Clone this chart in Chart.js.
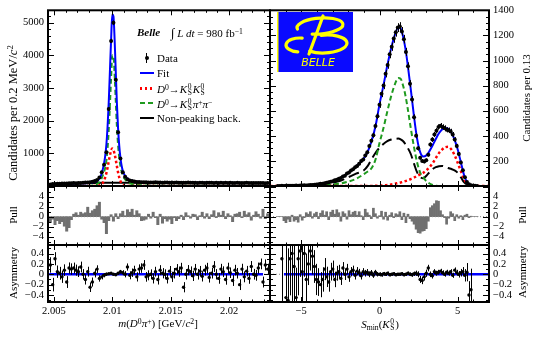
<!DOCTYPE html>
<html><head><meta charset="utf-8">
<script src="https://cdn.jsdelivr.net/npm/chart.js"></script>
<style>
html,body{margin:0;padding:0;background:#fff;}
#wrap{position:relative;width:533px;height:337px;overflow:hidden;background:#fff;font-family:"Liberation Serif","Times New Roman",serif;color:#000;}
#wrap canvas{position:absolute;left:0;top:0;}
.t{position:absolute;white-space:nowrap;font-size:11px;line-height:1;}
.rot{transform:translate(-50%,-50%) rotate(-90deg);}
.ctr{transform:translate(-50%,-50%);}
.lv{transform:translateY(-50%);}
sup{font-size:70%;position:relative;top:-0.45em;line-height:0;vertical-align:baseline;}
sub{font-size:70%;position:relative;top:0.3em;line-height:0;vertical-align:baseline;}
.ks{display:inline-block;position:relative;width:5.5px;height:11px;}
.ks span{position:absolute;left:0.5px;font-size:7.5px;line-height:1;}
.ks .u{top:0.5px;}
.ks .d{top:6.5px;}
.sym{position:absolute;}
</style></head>
<body>
<div id="wrap">
<canvas id="c_lt" width="533" height="337"></canvas>
<canvas id="c_lp" width="533" height="337"></canvas>
<canvas id="c_la" width="533" height="337"></canvas>
<canvas id="c_rt" width="533" height="337"></canvas>
<canvas id="c_rp" width="533" height="337"></canvas>
<canvas id="c_ra" width="533" height="337"></canvas>

<!-- axis titles -->
<div class="t rot" style="left:13px;top:113px;font-size:12.5px">Candidates per 0.2 MeV/<i>c</i><sup>2</sup></div>
<div class="t rot" style="left:13px;top:215px;">Pull</div>
<div class="t rot" style="left:13px;top:273px;">Asymmetry</div>
<div class="t rot" style="left:526px;top:98px;">Candidates per 0.13</div>
<div class="t rot" style="left:522px;top:215px;">Pull</div>
<div class="t rot" style="left:522px;top:272px;">Asymmetry</div>
<div class="t ctr" style="left:158px;top:323px;"><i>m</i>(<i>D</i><sup>0</sup><i>π</i><sup>+</sup>) [GeV/<i>c</i><sup>2</sup>]</div>
<div class="t ctr" style="left:380px;top:323px;"><i>S</i><sub>min</sub>(<i>K</i><span class="ks"><span class="u">0</span><span class="d">S</span></span>)</div>

<!-- Belle header -->
<div class="t lv" style="left:137px;top:32px;"><b><i>Belle</i></b></div>
<div class="t lv" style="left:171px;top:32px;"><span style="font-size:13px">∫</span> <i>L dt</i> = 980 fb<sup>−1</sup></div>

<!-- legend -->
<div class="sym" style="left:146px;top:53px;width:1px;height:10px;background:#000"></div>
<div class="sym" style="left:144.5px;top:56px;width:4px;height:4px;border-radius:50%;background:#000"></div>
<div class="t lv" style="left:157px;top:58px;">Data</div>
<div class="sym" style="left:140px;top:72px;width:14px;height:2px;background:#0000ff"></div>
<div class="t lv" style="left:157px;top:73px;">Fit</div>
<div class="sym" style="left:140px;top:87px;width:15px;height:2.5px;background:repeating-linear-gradient(90deg,#ff0000 0 2.5px,transparent 2.5px 5px)"></div>
<div class="t lv" style="left:157px;top:88px;"><i>D</i><sup>0</sup>→<i>K</i><span class="ks"><span class="u">0</span><span class="d">S</span></span><i>K</i><span class="ks"><span class="u">0</span><span class="d">S</span></span></div>
<div class="sym" style="left:140px;top:102px;width:15px;height:2px;background:repeating-linear-gradient(90deg,#1f9a1f 0 5px,transparent 5px 8px)"></div>
<div class="t lv" style="left:157px;top:103px;"><i>D</i><sup>0</sup>→<i>K</i><span class="ks"><span class="u">0</span><span class="d">S</span></span><i>π</i><sup>+</sup><i>π</i><sup>−</sup></div>
<div class="sym" style="left:140px;top:117px;width:14px;height:2px;background:#000"></div>
<div class="t lv" style="left:157px;top:118px;">Non-peaking back.</div>
</div>

<script>
// ================= DATA =================
// Left: m(D0 pi+) histogram, bins of 0.2 MeV
const leftBinStart = 2.0047;
const leftBinWidth = 0.0002;
const leftCounts = [
  45, 58, 62, 70, 66, 74, 80, 77, 85, 82, 90, 88, 95, 92, 100, 104, 110, 118, 130, 152, 185, 260,
  421, 650, 1032, 2357, 4443, 5000, 3250, 1643, 840, 421, 280,
  210, 168, 150, 138, 126, 120, 118, 112, 115, 108,
  110, 105, 112, 104, 108, 102, 110, 106, 100, 104,
  98, 106, 101, 97, 103, 99, 104, 96, 100, 102,
  95, 99, 101, 94, 98, 100, 96, 92, 99, 95,
  97, 93, 98, 94, 96, 90, 95, 97, 92, 94,
  91, 96, 93, 90, 94, 92, 89, 93, 91, 88,
  92
];
const leftCurveX = [2.0045, 2.0050, 2.0055, 2.0060, 2.0065, 2.0070, 2.0075, 2.0080, 2.0083, 2.0086, 2.0088,
  2.0090, 2.0091, 2.0092, 2.0093, 2.0094, 2.0095, 2.0096, 2.0097, 2.0098, 2.0099,
  2.0100, 2.0101, 2.0102, 2.0103, 2.0104, 2.0105, 2.0106, 2.0107, 2.0108, 2.0109, 2.0110,
  2.0112, 2.0114, 2.0117, 2.0120, 2.0125, 2.0130, 2.0140, 2.0150, 2.0165, 2.0180, 2.0195, 2.0210, 2.0225, 2.0235];
const leftFit = [40, 55, 62, 70, 76, 81, 86, 92, 110, 140, 185,
  290, 390, 530, 700, 930, 1280, 1830, 2580, 3530, 4480,
  5250, 5200, 4500, 3500, 2500, 1750, 1220, 860, 620, 470, 370,
  265, 205, 160, 138, 120, 112, 106, 103, 100, 98, 96, 94, 92, 91];
const leftKsKs = [0, 0, 0, 0, 0, 0, 0, 0, 0, 0, 5,
  25, 50, 100, 170, 270, 400, 570, 760, 940, 1080,
  1150, 1110, 980, 800, 600, 410, 260, 150, 80, 40, 20,
  5, 0, 0, 0, 0, 0, 0, 0, 0, 0, 0, 0, 0, 0];
const leftKsPiPi = [0, 0, 0, 0, 0, 0, 0, 2, 18, 46, 85,
  169, 244, 333, 433, 563, 782, 1162, 1722, 2492, 3301,
  4001, 3991, 3421, 2601, 1801, 1241, 861, 611, 441, 331, 251,
  161, 106, 62, 40, 22, 15, 9, 7, 5, 4, 3, 2, 1, 1];
const leftBkg = [40, 55, 62, 70, 76, 81, 86, 90, 92, 94, 95,
  96, 96, 97, 97, 97, 98, 98, 98, 98, 99,
  99, 99, 99, 99, 99, 99, 99, 99, 99, 99, 99,
  99, 99, 98, 98, 98, 97, 97, 96, 95, 94, 93, 92, 91, 90];
const leftPull = [
  -1.2, -0.5, -1.6, -0.8, -1.4, -1.0, -1.9, -2.9, -2.2, -0.6,
  0.5, 0.8, 0.3, 0.9, 0.6, 0.8, 1.9, 0.7, 1.2, 1.5,
  2.2, 2.9, -0.5, -1.2, -3.4, -0.8, 0.4, -0.9, 0.6, -0.4,
  0.6, 1.1, 0.2, 1.4, 0.9, 1.5, 0.3, 1.2, 0.6, -0.8,
  -0.7, -0.5, 0.5, -0.3, 0.9, -0.2, -1.6, 0.5, -1.3, -0.4,
  -0.9, -0.5, -1.4, -0.2, -0.8, -0.4, 0.3, -0.6, 0.8, 0.2,
  -0.3, 0.5, 0.4, -0.6, 0.2, 0.9, -0.3, 0.6, -0.4, 0.4,
  1.2, -0.2, 0.8, 0.3, 1.1, -0.4, 0.6, 0.2, -1.0, 0.5,
  0.6, 0.9, -0.2, 1.1, 0.4, 0.8, -0.7, 0.3, 1.0, 0.5,
  -0.3, 1.5, -0.4, 0.6
];
const leftAsym = [
  0.18, -0.2, 0.3, 0.05, 0.02, -0.05, 0.08, -0.15, 0.12, 0.1,
  0.12, 0.08, 0.05, 0.14, 0.0, -0.1, 0.05, -0.25, -0.15, 0.02,
  0.1, -0.08, -0.05, -0.02, 0.0, 0.01, 0.02, 0.0, -0.01, 0.02,
  0.05, 0.03, 0.0, 0.14, -0.02, 0.03, 0.08, -0.05, 0.1, 0.12,
  0.18, -0.05, -0.02, 0.0, -0.08, 0.05, -0.1, 0.08, 0.02, 0.0,
  -0.08, 0.06, -0.05, 0.02, 0.1, 0.05, 0.12, -0.25, 0.0, 0.08,
  0.05, -0.03, 0.1, 0.0, 0.06, -0.04, 0.08, 0.12, -0.06, 0.02,
  0.15, 0.0, -0.08, 0.1, 0.05, -0.1, 0.12, 0.03, -0.12, 0.08,
  0.02, -0.2, 0.1, -0.05, 0.06, -0.08, 0.15, 0.0, -0.02, 0.12,
  0.2, -0.15, 0.18, 0.1
];

// Right: S_min(KS) histogram, bins of 0.13
const rightBinStart = -6.5;
const rightBinWidth = 0.13;
const rightCounts = [
  0, 0, 1, 0, 1, 1, 2, 1, 2, 3,
  2, 4, 3, 5, 4, 6, 7, 8, 10, 11,
  14, 17, 18, 22, 26, 29, 34, 37, 45, 49,
  57, 63, 75, 82, 99, 108, 124, 133, 150, 160,
  178, 200, 212, 244, 268, 318, 360, 405, 478, 556,
  648, 735, 800, 895, 965, 1050, 1110, 1175, 1225, 1262,
  1270, 1232, 1170, 1068, 955, 815, 690, 548, 400, 300,
  225, 200, 195, 205, 250, 330, 370, 410, 440, 470,
  480, 470, 462, 448, 445, 435, 410, 370, 318, 255,
  188, 125, 70, 32, 14, 6, 2, 1, 0
];
const rightCurveX = [-7.0, -6.0, -5.0, -4.5, -4.0, -3.5, -3.0, -2.5, -2.0, -1.5, -1.0,
  -0.75, -0.5, -0.25, 0.0, 0.25, 0.5, 0.75, 1.0, 1.2, 1.35, 1.5, 1.65, 1.8,
  2.0, 2.2, 2.4, 2.6, 2.8, 3.0, 3.2, 3.4, 3.6, 3.8, 4.0, 4.2, 4.4, 4.6, 4.8,
  5.0, 5.2, 5.4, 5.6, 5.8, 6.0, 6.5, 7.0];
const rightFit = [0, 1, 3, 6, 12, 22, 38, 62, 105, 155, 220,
  275, 360, 480, 650, 800, 960, 1100, 1210, 1262, 1255, 1195, 1100, 970,
  770, 560, 380, 270, 235, 245, 280, 325, 375, 420, 450, 462, 455, 425, 370,
  290, 190, 90, 30, 8, 2, 0, 0];
const rightKsKs = [0, 0, 0, 0, 0, 0, 0, 0, 0, 0, 0,
  0, 1, 2, 3, 5, 8, 12, 18, 24, 28, 34, 39, 45,
  55, 66, 80, 92, 105, 125, 150, 182, 222, 262, 290, 309, 312, 290, 246,
  185, 120, 60, 20, 5, 1, 0, 0];
const rightKsPiPi = [0, 0, 1, 2, 4, 7, 12, 20, 35, 57, 95,
  115, 144, 213, 342, 460, 594, 718, 816, 860, 855, 803, 726, 620,
  460, 314, 190, 106, 68, 38, 20, 8, 3, 0, 0, 0, 0, 0, 0,
  0, 0, 0, 0, 0, 0, 0, 0];
const rightBkg = [0, 1, 2, 4, 8, 15, 26, 42, 70, 98, 125,
  160, 215, 265, 305, 335, 358, 370, 376, 378, 372, 358, 335, 305,
  255, 180, 110, 72, 62, 82, 110, 135, 150, 158, 160, 153, 143, 135, 124,
  105, 70, 30, 10, 3, 0, 0, 0];
const rightPull = [
  0, 0, 0, -0.8, -1.2, -0.5, -1.0, 0.3, -0.9, -0.6,
  -1.1, 0.4, -0.7, -0.2, 0.8, 0.5, 1.0, -0.3, 0.6, 0.9,
  -0.4, 0.7, 1.2, 0.3, 1.0, -0.6, 0.9, 1.3, 0.5, 1.4,
  0.8, -0.9, 1.0, 0.6, -0.5, 1.2, 0.4, 0.9, 1.1, 0.3,
  1.0, 0.2, -0.6, 1.5, 0.8, 0.3, -0.4, 1.7, 0.6, -0.3,
  0.2, 1.1, -0.5, 0.9, -0.7, 0.3, 0.8, -0.2, 0.6, 0.4,
  1.0, -0.6, 0.7, -1.2, 0.5, -0.4, -0.9, -1.5, -2.5, -3.2,
  -3.3, -2.9, -2.8, -2.4, -0.9, 1.8, 2.2, 2.6, 3.2, 3.1,
  1.2, 0.4, -0.2, -1.5, -0.3, 1.0, 0.6, -0.8, 0.4, -0.3,
  0.2, -0.6, 0.3, 0.5, -0.2, 0.1, 0, 0, 0
];
const rightAsym = [
  null, null, 0.3, null, -0.45, -0.5, 0.3, 0.4, 0.15, -0.45,
  0.3, 0.45, 0.05, 0.4, -0.1, 0.2, 0.45, 0.35, 0.15, -0.1,
  -0.15, -0.2, -0.1, 0.1, -0.05, -0.15, 0.05, 0.1, -0.1, 0.02,
  0.05, -0.08, 0.12, 0.0, 0.1, -0.05, 0.05, 0.08, -0.02, 0.06,
  0.03, -0.03, 0.05, 0.02, 0.04, 0.0, 0.03, -0.02, 0.04, 0.0,
  0.0, -0.01, 0.01, 0.0, 0.02, -0.01, 0.0, 0.01, -0.01, 0.0,
  0.0, 0.01, -0.01, 0.0, 0.02, 0.0, -0.01, 0.01, 0.02, 0.0,
  -0.1, -0.12, -0.05, 0.02, 0.12, 0.0, -0.03, 0.05, 0.02, 0.04,
  0.06, 0.03, 0.0, 0.04, 0.02, 0.05, -0.02, 0.08, 0.03, 0.0,
  0.03, 0.05, -0.02, 0.04, -0.4, -0.3, null, null, null
];

// tick labels
const leftXTicks = [2.005, 2.01, 2.015, 2.02];
const leftXTickLabels = ['2.005', '2.01', '2.015', '2.02'];
const rightXTicks = [-5, 0, 5];
const rightXTickLabels = ['\u22125', '0', '5'];
const leftYTicks = [1000, 2000, 3000, 4000, 5000];
const leftYTickLabels = ['1000', '2000', '3000', '4000', '5000'];
const rightYTicks = [200, 400, 600, 800, 1000, 1200, 1400];
const rightYTickLabels = ['200', '400', '600', '800', '1000', '1200', '1400'];
const pullTicks = [-4, -2, 0, 2, 4];
const pullTickLabels = ['\u22124', '\u22122', '0', '2', '4'];
const asymTicks = [-0.4, -0.2, 0, 0.2, 0.4];
const asymTickLabels = ['\u22120.4', '\u22120.2', '0', '0.2', '0.4'];

// ================= LAYOUT =================
const W = 533, H = 337;
const LBL = {w: 40, h: 22};
const AREA = {
  lt: {l: 48, t: 10, r: 270, b: 186},
  lp: {l: 48, t: 186, r: 270, b: 245},
  la: {l: 48, t: 245, r: 270, b: 302},
  rt: {l: 270, t: 10, r: 489, b: 186},
  rp: {l: 270, t: 186, r: 489, b: 245},
  ra: {l: 270, t: 245, r: 489, b: 302}
};
const XR = {left: [2.0045, 2.0235], right: [-7, 7]};
const YR = {lt: [0, 5380], rt: [0, 1400], pull: [-5.66, 6.14], asym: [-0.535, 0.565]};
const FONT = {family: "'Liberation Serif','Times New Roman',serif", size: 10.5};
const BLUE = '#0000ff', RED = '#ff0000', GREEN = '#1f9a1f', GREY = '#707070';

// ================= PLUGINS =================
const framePlugin = {
  id: 'frame',
  afterDraw(chart, args, o) {
    if (!o || !o.xMinor) return;
    const {ctx, chartArea: a} = chart;
    const xs = chart.scales.x, ys = chart.scales.y;
    ctx.save();
    ctx.strokeStyle = '#000';
    ctx.lineWidth = 1;
    ctx.beginPath();
    let i0 = Math.ceil(xs.min / o.xMinor - 1e-6), i1 = Math.floor(xs.max / o.xMinor + 1e-6);
    for (let i = i0; i <= i1; i++) {
      const px = Math.round(xs.getPixelForValue(i * o.xMinor)) + 0.5;
      const len = (i % o.xRatio === 0) ? o.xLen : o.xLen * 0.5;
      ctx.moveTo(px, a.bottom); ctx.lineTo(px, a.bottom - len);
      ctx.moveTo(px, a.top); ctx.lineTo(px, a.top + len);
    }
    i0 = Math.ceil(ys.min / o.yMinor - 1e-6); i1 = Math.floor(ys.max / o.yMinor + 1e-6);
    for (let i = i0; i <= i1; i++) {
      const py = Math.round(ys.getPixelForValue(i * o.yMinor)) + 0.5;
      const len = (i % o.yRatio === 0) ? o.yLen : o.yLen * 0.5;
      ctx.moveTo(a.left, py); ctx.lineTo(a.left + len, py);
      ctx.moveTo(a.right, py); ctx.lineTo(a.right - len, py);
    }
    ctx.stroke();
    ctx.lineWidth = 2;
    ctx.strokeRect(a.left, a.top, a.right - a.left, a.bottom - a.top);
    ctx.restore();
  }
};

const errPlugin = {
  id: 'errbars',
  afterDatasetsDraw(chart) {
    const {ctx, chartArea: a} = chart;
    ctx.save();
    ctx.beginPath();
    ctx.rect(a.left, a.top, a.right - a.left, a.bottom - a.top);
    ctx.clip();
    chart.data.datasets.forEach((ds, i) => {
      if (!ds.errors) return;
      const meta = chart.getDatasetMeta(i);
      const xs = chart.scales[meta.xAxisID], ys = chart.scales[meta.yAxisID];
      ctx.strokeStyle = '#000';
      ctx.lineWidth = 1;
      ctx.beginPath();
      ds.data.forEach((p, j) => {
        if (p.y === null || p.y === undefined) return;
        const e = ds.errors[j];
        if (!e) return;
        const x = Math.round(xs.getPixelForValue(p.x)) + 0.5;
        ctx.moveTo(x, ys.getPixelForValue(p.y - e));
        ctx.lineTo(x, ys.getPixelForValue(p.y + e));
      });
      ctx.stroke();
    });
    ctx.restore();
  }
};

const logoPlugin = {
  id: 'logo',
  afterDraw(chart, args, o) {
    if (!o || !o.box) return;
    const {ctx} = chart;
    const [x, y, w, h] = o.box;
    ctx.save();
    ctx.fillStyle = '#0a0aff';
    ctx.fillRect(x, y, w, h);
    ctx.fillStyle = '#ffff00';
    ctx.fillRect(x - 1, y, 1.5, h);
    ctx.strokeStyle = '#ffff00';
    ctx.lineWidth = 3.2;
    ctx.lineCap = 'round';
    ctx.beginPath();
    ctx.ellipse(x + 42, y + 14, 23, 8, -0.08, Math.PI * 0.95, Math.PI * 2.62);
    ctx.stroke();
    ctx.beginPath();
    ctx.ellipse(x + 47, y + 32, 22, 9, -0.05, Math.PI * 1.45, Math.PI * 2.75);
    ctx.stroke();
    ctx.beginPath();
    ctx.ellipse(x + 22, y + 33, 14, 7, 0, Math.PI * 0.55, Math.PI * 1.55);
    ctx.stroke();
    ctx.beginPath();
    ctx.moveTo(x + 45, y + 4);
    ctx.lineTo(x + 31, y + 42);
    ctx.stroke();
    ctx.font = "italic 11px 'DejaVu Sans', sans-serif";
    ctx.textAlign = 'center';
    ctx.textBaseline = 'middle';
    ctx.fillStyle = '#ffff00';
    ctx.fillText('BELLE', x + 40, y + 51);
    ctx.restore();
  }
};

Chart.register(framePlugin, errPlugin, logoPlugin);

// ================= HELPERS =================
function pts(xs, ys) { return xs.map((x, i) => ({x, y: ys[i]})); }
function scale(range, extra) {
  return Object.assign({
    type: 'linear', min: range[0], max: range[1], offset: false, display: false,
    grid: {display: false, drawTicks: false}, border: {display: false}
  }, extra || {});
}
function labelled(position, vals, labels) {
  const horiz = position === 'bottom';
  return {
    display: true, position,
    afterBuildTicks: s => { s.ticks = vals.map(v => ({value: v})); },
    afterFit: s => { if (horiz) s.height = LBL.h; else s.width = LBL.w; },
    ticks: {
      autoSkip: false, maxRotation: 0, minRotation: 0, color: '#000', font: FONT,
      padding: horiz ? 3 : 4,
      callback: (v, i) => labels[i]
    }
  };
}
function makeChart(id, area, xcfg, ycfg, datasets, frame, extraPlugins) {
  const plugins = Object.assign({legend: {display: false}, tooltip: {enabled: false}, frame}, extraPlugins || {});
  const pad = {
    left: area.l - (ycfg.display && ycfg.position === 'left' ? LBL.w : 0),
    right: W - area.r - (ycfg.display && ycfg.position === 'right' ? LBL.w : 0),
    top: area.t,
    bottom: H - area.b - (xcfg.display ? LBL.h : 0)
  };
  return new Chart(document.getElementById(id), {
    type: 'line',
    data: {datasets},
    options: {
      responsive: false, animation: false, devicePixelRatio: 1, events: [],
      layout: {padding: pad},
      plugins,
      scales: {x: xcfg, y: ycfg}
    }
  });
}
function curve(xs, ys, color, width, dash, order) {
  return {type: 'line', data: pts(xs, ys), borderColor: color, borderWidth: width, borderDash: dash || [],
    pointRadius: 0, cubicInterpolationMode: 'monotone', fill: false, order, clip: 0, borderCapStyle: 'butt'};
}
function dataSet(xs, ys, errs, r) {
  return {type: 'line', data: pts(xs, ys), errors: errs, showLine: false, pointRadius: r,
    pointBackgroundColor: '#000', pointBorderWidth: 0, order: 0, clip: 0};
}
function flat(x0, x1, color, width, dash, order) {
  return {type: 'line', data: [{x: x0, y: 0}, {x: x1, y: 0}], borderColor: color, borderWidth: width,
    borderDash: dash || [], pointRadius: 0, order, clip: 0};
}

const leftBins = leftCounts.map((_, i) => +(leftBinStart + i * leftBinWidth).toFixed(5));
const rightBins = rightCounts.map((_, i) => +(rightBinStart + i * rightBinWidth).toFixed(3));

const frameLX = {xMinor: 0.001, xRatio: 5, xLen: 5};
const frameRX = {xMinor: 1, xRatio: 5, xLen: 5};

// ---- left top ----
makeChart('c_lt', AREA.lt,
  scale(XR.left),
  scale(YR.lt, labelled('left', leftYTicks, leftYTickLabels)),
  [
    dataSet(leftBins, leftCounts, leftCounts.map(Math.sqrt), 2),
    curve(leftCurveX, leftFit, BLUE, 2, [], 1),
    curve(leftCurveX, leftKsKs, RED, 2.5, [2.5, 2.5], 2),
    curve(leftCurveX, leftKsPiPi, GREEN, 2, [5, 3], 3),
    curve(leftCurveX, leftBkg, '#000', 2, [], 4)
  ],
  Object.assign({yMinor: 200, yRatio: 5, yLen: 6}, frameLX));

// ---- left pull ----
makeChart('c_lp', AREA.lp,
  scale(XR.left),
  scale(YR.pull, labelled('left', pullTicks, pullTickLabels)),
  [
    flat(XR.left[0], XR.left[1], '#888', 1, [1, 2], 0),
    {type: 'bar', data: pts(leftBins, leftPull), backgroundColor: GREY, borderWidth: 0,
      barPercentage: 1, categoryPercentage: 1, order: 1}
  ],
  Object.assign({yMinor: 1, yRatio: 2, yLen: 6}, frameLX));

// ---- left asymmetry ----
makeChart('c_la', AREA.la,
  scale(XR.left, labelled('bottom', leftXTicks, leftXTickLabels)),
  scale(YR.asym, labelled('left', asymTicks, asymTickLabels)),
  [
    dataSet(leftBins, leftAsym, leftCounts.map(n => 1 / Math.sqrt(n)), 1.7),
    flat(leftBins[0] - 0.0001, leftBins[leftBins.length - 1] - 0.0004, BLUE, 2.5, [], 1),
    flat(XR.left[0], XR.left[1], '#888', 1, [1, 2], 2)
  ],
  Object.assign({yMinor: 0.1, yRatio: 2, yLen: 6}, frameLX));

// ---- right top ----
makeChart('c_rt', AREA.rt,
  scale(XR.right),
  scale(YR.rt, labelled('right', rightYTicks, rightYTickLabels)),
  [
    dataSet(rightBins, rightCounts, rightCounts.map(Math.sqrt), 2),
    curve(rightCurveX, rightFit, BLUE, 2, [], 1),
    curve(rightCurveX, rightKsKs, RED, 2.5, [2.5, 2.5], 2),
    curve(rightCurveX, rightKsPiPi, GREEN, 2, [5, 3], 3),
    curve(rightCurveX, rightBkg, '#000', 2, [11, 5], 4)
  ],
  Object.assign({yMinor: 50, yRatio: 4, yLen: 6}, frameRX),
  {logo: {box: [AREA.rt.l + 8, AREA.rt.t + 2, 75, 60]}});

// ---- right pull ----
makeChart('c_rp', AREA.rp,
  scale(XR.right),
  scale(YR.pull, labelled('right', pullTicks, pullTickLabels)),
  [
    flat(XR.right[0], XR.right[1], '#888', 1, [1, 2], 0),
    {type: 'bar', data: pts(rightBins, rightPull), backgroundColor: GREY, borderWidth: 0,
      barPercentage: 1, categoryPercentage: 1, order: 1}
  ],
  Object.assign({yMinor: 1, yRatio: 2, yLen: 6}, frameRX));

// ---- right asymmetry ----
makeChart('c_ra', AREA.ra,
  scale(XR.right, labelled('bottom', rightXTicks, rightXTickLabels)),
  scale(YR.asym, labelled('right', asymTicks, asymTickLabels)),
  [
    dataSet(rightBins, rightAsym, rightCounts.map(n => n > 0 ? 1 / Math.sqrt(n) : 0), 1.7),
    flat(rightBins[3], XR.right[1], BLUE, 2.5, [], 1),
    flat(XR.right[0], XR.right[1], '#888', 1, [1, 2], 2)
  ],
  Object.assign({yMinor: 0.1, yRatio: 2, yLen: 6}, frameRX));
</script>
</body></html>
